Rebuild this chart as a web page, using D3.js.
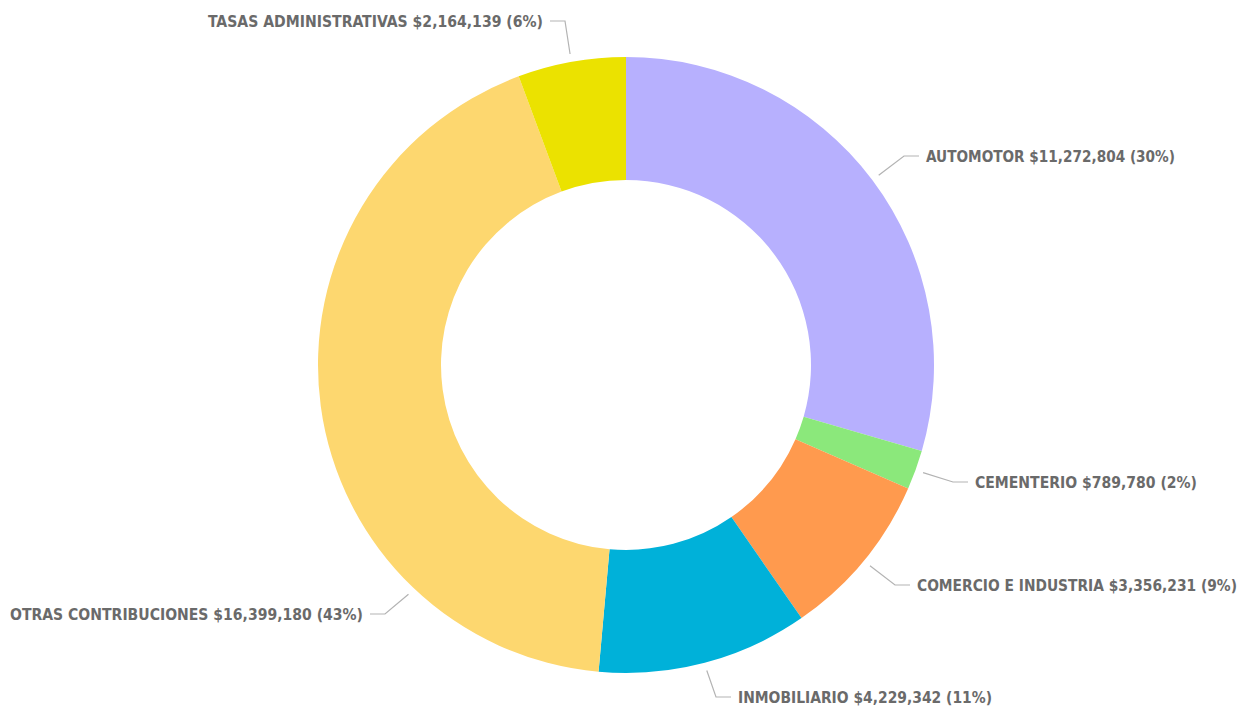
<!DOCTYPE html>
<html><head><meta charset="utf-8">
<script src="https://cdn.jsdelivr.net/npm/d3@7"></script>
<style>html,body{margin:0;padding:0;background:#fff;}svg{display:block;}</style>
</head><body>
<svg id="chart" width="1249" height="711"></svg>
<script>
const categories = ["AUTOMOTOR","CEMENTERIO","COMERCIO E INDUSTRIA","INMOBILIARIO","OTRAS CONTRIBUCIONES","TASAS ADMINISTRATIVAS"];
const values = [11272804, 789780, 3356231, 4229342, 16399180, 2164139];
const colors = ["#B7B0FE","#8BE87B","#FF9A4E","#00B1D9","#FDD76F","#EBE200"];

// label layout (positions only)
const labelLayout = [
  {side:"right", x:926, y:156},
  {side:"right", x:975, y:482},
  {side:"right", x:917, y:585},
  {side:"right", x:738, y:697},
  {side:"left",  x:363, y:614, anchorDeg:223.5},
  {side:"left",  x:543, y:21}
];
const textWidths = [249, 222, 320, 254, 353, 335];

const svg = d3.select("#chart");
const W = 1249;
const cx = 626, cy = 365, rOuter = 308, rInner = 185, rLead = 316;
const total = d3.sum(values);
const data = categories.map((c,i)=>({cat:c, value:values[i], color:colors[i], i}));

const pie = d3.pie().value(d=>d.value).sort(null);
const arcs = pie(data);
const arc = d3.arc().innerRadius(rInner).outerRadius(rOuter);

const g = svg.append("g").attr("transform",`translate(${cx},${cy})`);
g.selectAll("path.slice").data(arcs).enter().append("path")
  .attr("class","slice").attr("d",arc).attr("fill",d=>d.data.color);

const fmt = d3.format(",");
const pctFmt = v => Math.round(v/total*100) + "%";

arcs.forEach((a,i)=>{
  const L = labelLayout[i];
  const ang = L.anchorDeg !== undefined ? L.anchorDeg*Math.PI/180 : (a.startAngle+a.endAngle)/2;
  const px = cx + rLead*Math.sin(ang), py = cy - rLead*Math.cos(ang);
  const dir = L.side === "right" ? -1 : 1;
  const ex = L.x + dir*22, hx = L.x + dir*7;
  svg.append("polyline")
    .attr("points", `${px},${py} ${ex},${L.y} ${hx},${L.y}`)
    .attr("fill","none").attr("stroke","#b3b3b3").attr("stroke-width",1.2);
  const t = svg.append("text")
    .attr("x", L.x).attr("y", L.y)
    .attr("dominant-baseline","central")
    .attr("text-anchor", L.side === "right" ? "start" : "end")
    .attr("font-family","'DejaVu Sans Condensed','DejaVu Sans',sans-serif")
    .attr("font-weight","bold").attr("font-size",16)
    .attr("fill","#6a6a6a")
    .text(`${a.data.cat} $${fmt(a.data.value)} (${pctFmt(a.data.value)})`);
  // keep the natural width inside the canvas
  const nat = t.node().getComputedTextLength();
  const room = L.side === "right" ? (W - 4 - L.x) : (L.x - 4);
  if (nat > room) t.attr("font-size", 16 * room / nat);
  t.attr("textLength", Math.min(textWidths[i], room)).attr("lengthAdjust","spacingAndGlyphs");
});
</script>
</body></html>
